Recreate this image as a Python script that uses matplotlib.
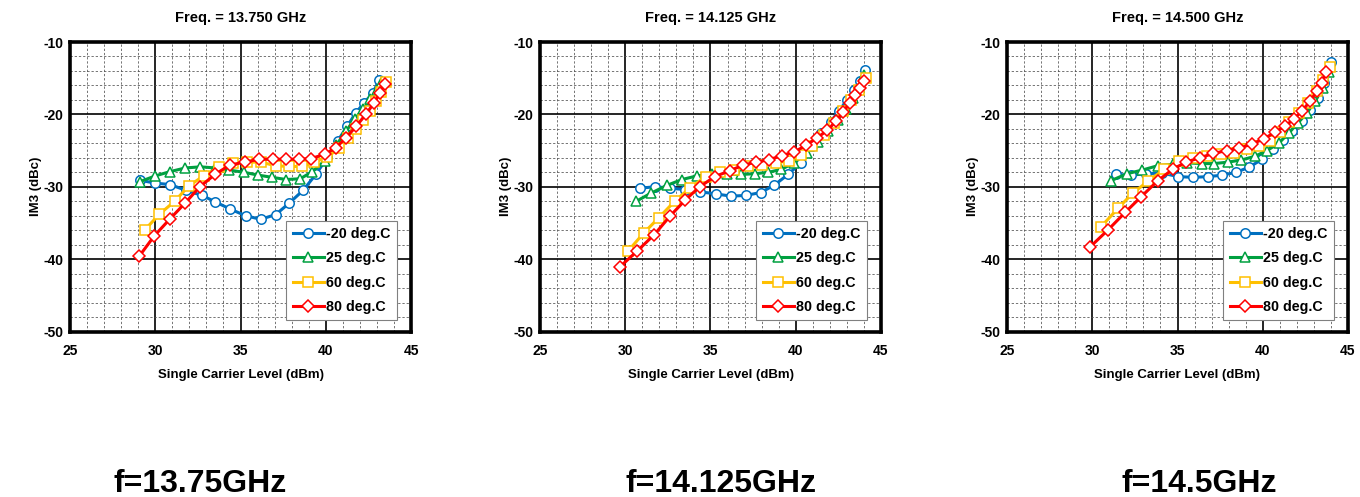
import matplotlib
matplotlib.use("Agg")
import matplotlib.pyplot as plt
from matplotlib.ticker import MultipleLocator

# ---- data -------------------------------------------------------------
panel_titles = ["Freq. = 13.750 GHz", "Freq. = 14.125 GHz", "Freq. = 14.500 GHz"]
panel_captions = ["f=13.75GHz", "f=14.125GHz", "f=14.5GHz"]
series_labels = ["-20 deg.C", "25 deg.C", "60 deg.C", "80 deg.C"]

# 13.750 GHz
f1_m20_x = [29.1, 30.0, 30.88, 31.8, 32.75, 33.53, 34.41, 35.3, 36.18, 37.06, 37.84, 38.67, 39.45, 40.1,
            40.69, 41.27, 41.76, 42.25, 42.75, 43.14]
f1_m20_y = [-29.1, -29.5, -29.7, -30.5, -31.2, -32.1, -33.1, -34.0, -34.5, -33.85, -32.3, -30.5, -28.2, -25.9,
            -23.7, -21.6, -19.8, -18.4, -17.1, -15.2]
f1_25_x = [29.1, 30.0, 30.88, 31.77, 32.65, 33.53, 34.35, 35.2, 36.05, 36.86, 37.67, 38.5, 39.22, 39.95,
           40.6, 41.2, 41.7, 42.2, 42.6, 43.0, 43.25]
f1_25_y = [-29.3, -28.5, -27.9, -27.4, -27.25, -27.4, -27.7, -28.0, -28.4, -28.7, -29.0, -28.9, -27.9, -26.4,
           -24.3, -22.3, -20.6, -19.3, -17.9, -16.7, -15.6]
f1_60_x = [29.37, 30.24, 31.14, 31.96, 32.84, 33.73, 34.55, 35.4, 36.2, 37.06, 37.84, 38.63, 39.33, 40.1,
           40.8, 41.3, 41.8, 42.2, 42.6, 42.95, 43.25, 43.53]
f1_60_y = [-36.0, -33.8, -32.0, -29.9, -28.5, -27.3, -26.7, -26.6, -26.6, -27.1, -27.2, -27.2, -26.6, -25.9,
           -24.6, -23.3, -22.0, -20.8, -19.5, -18.2, -16.9, -15.5]
f1_80_x = [29.06, 29.94, 30.84, 31.73, 32.62, 33.5, 34.38, 35.25, 36.1, 36.9, 37.68, 38.45, 39.15, 39.95,
           40.6, 41.2, 41.8, 42.35, 42.84, 43.18, 43.45]
f1_80_y = [-39.6, -36.8, -34.5, -32.3, -30.0, -28.3, -27.0, -26.6, -26.2, -26.2, -26.2, -26.2, -26.1, -25.5,
           -24.6, -23.2, -21.6, -20.0, -18.4, -17.1, -15.8]

# 14.125 GHz
f2_m20_x = [30.84, 31.76, 32.65, 33.53, 34.41, 35.35, 36.2, 37.06, 37.94, 38.73, 39.55, 40.3, 40.95,
            41.5, 42.05, 42.55, 43.0, 43.4, 43.75, 44.05]
f2_m20_y = [-30.2, -30.0, -30.2, -30.4, -30.7, -31.0, -31.3, -31.2, -30.8, -29.8, -28.3, -26.7, -24.4,
            -22.6, -21.0, -19.5, -18.0, -16.7, -15.4, -13.9]
f2_25_x = [30.65, 31.5, 32.45, 33.33, 34.2, 35.1, 35.98, 36.8, 37.6, 38.4, 39.15, 39.9, 40.65,
           41.3, 41.9, 42.45, 42.95, 43.35, 43.7, 44.02]
f2_25_y = [-32.0, -30.9, -29.8, -29.0, -28.5, -28.3, -28.3, -28.3, -28.2, -28.0, -27.6, -26.7, -25.3,
           -23.8, -22.3, -20.8, -19.3, -17.8, -16.4, -14.5]
f2_60_x = [30.16, 31.08, 31.96, 32.9, 33.78, 34.71, 35.53, 36.37, 37.22, 38.04, 38.82, 39.61, 40.29,
           40.98, 41.67, 42.25, 42.75, 43.24, 43.73, 44.12]
f2_60_y = [-38.9, -36.4, -34.3, -32.0, -30.2, -28.6, -27.9, -27.7, -27.2, -27.0, -26.7, -26.4, -25.6,
           -24.4, -22.8, -21.2, -19.6, -18.0, -16.6, -15.0]
f2_80_x = [29.67, 30.69, 31.71, 32.61, 33.53, 34.37, 35.25, 36.12, 36.92, 37.68, 38.45, 39.18, 39.9,
           40.6, 41.27, 41.86, 42.37, 42.78, 43.16, 43.5, 43.75, 44.0]
f2_80_y = [-41.1, -38.9, -36.6, -34.1, -31.8, -30.0, -28.6, -27.8, -27.0, -26.6, -26.25, -25.7, -25.2,
           -24.3, -23.2, -22.2, -20.9, -19.7, -18.4, -17.3, -16.4, -15.4]

# 14.500 GHz
f3_m20_x = [31.4, 32.28, 33.15, 34.07, 35.04, 35.93, 36.81, 37.63, 38.44, 39.2, 39.96, 40.6, 41.2,
            41.72, 42.28, 42.78, 43.23, 43.62, 43.99]
f3_m20_y = [-28.3, -28.4, -28.2, -28.1, -28.6, -28.7, -28.6, -28.4, -28.0, -27.3, -26.2, -24.8, -23.5,
            -22.3, -20.9, -19.4, -17.7, -15.7, -12.8]
f3_25_x = [31.11, 32.04, 32.92, 33.83, 34.71, 35.58, 36.42, 37.14, 37.95, 38.75, 39.53, 40.25, 40.93,
           41.52, 42.06, 42.59, 43.07, 43.52, 43.91]
f3_25_y = [-29.15, -28.2, -27.7, -27.1, -26.9, -26.7, -26.8, -26.8, -26.6, -26.3, -25.8, -25.0, -24.0,
           -22.6, -21.2, -19.8, -18.2, -16.4, -14.2]
f3_60_x = [30.49, 31.5, 32.37, 33.29, 34.22, 35.1, 35.93, 36.75, 37.53, 38.31, 39.09, 39.77, 40.45,
           41.03, 41.52, 42.1, 42.68, 43.17, 43.56, 43.95]
f3_60_y = [-35.6, -33.0, -30.9, -29.2, -27.6, -26.5, -26.0, -25.7, -25.5, -25.3, -24.8, -24.4, -23.7,
           -22.5, -21.1, -19.8, -18.4, -16.8, -15.2, -13.4]
f3_80_x = [29.88, 30.91, 31.95, 32.86, 33.83, 34.71, 35.49, 36.3, 37.1, 37.88, 38.6, 39.35, 40.05,
           40.7, 41.32, 41.85, 42.3, 42.78, 43.17, 43.45, 43.7]
f3_80_y = [-38.3, -36.0, -33.5, -31.4, -29.2, -27.6, -26.6, -26.0, -25.4, -25.0, -24.7, -24.1, -23.4,
           -22.5, -21.6, -20.6, -19.5, -18.2, -16.8, -15.6, -14.2]

panels = [
    [(f1_m20_x, f1_m20_y), (f1_25_x, f1_25_y), (f1_60_x, f1_60_y), (f1_80_x, f1_80_y)],
    [(f2_m20_x, f2_m20_y), (f2_25_x, f2_25_y), (f2_60_x, f2_60_y), (f2_80_x, f2_80_y)],
    [(f3_m20_x, f3_m20_y), (f3_25_x, f3_25_y), (f3_60_x, f3_60_y), (f3_80_x, f3_80_y)],
]

# ---- style ------------------------------------------------------------
plt.rcParams["font.family"] = ["Liberation Sans", "DejaVu Sans"]
plt.rcParams["axes.unicode_minus"] = False
colors = ["#0070C0", "#00A040", "#FFC000", "#FF0000"]
markers = ["o", "^", "s", "D"]
msizes = [6.8, 6.6, 7.6, 5.8]

W, H = 1360, 497
fig = plt.figure(figsize=(W / 100, H / 100), dpi=100)

lefts = [70, 540, 1007]
ax_w = 341
ax_top, ax_bot = 42, 331.5

for i, series in enumerate(panels):
    ax = fig.add_axes([lefts[i] / W, 1 - ax_bot / H, ax_w / W, (ax_bot - ax_top) / H])
    ax.set_xlim(25, 45)
    ax.set_ylim(-50, -10)
    ax.xaxis.set_major_locator(MultipleLocator(5))
    ax.xaxis.set_minor_locator(MultipleLocator(1))
    ax.yaxis.set_major_locator(MultipleLocator(10))
    ax.yaxis.set_minor_locator(MultipleLocator(2))
    ax.grid(which="minor", color="#505050", linestyle=(0, (3, 2.5)), linewidth=0.55)
    ax.grid(which="major", color="black", linestyle="-", linewidth=1.2)
    ax.set_axisbelow(True)
    for sp in ax.spines.values():
        sp.set_linewidth(2.6)
        sp.set_color("black")
    ax.tick_params(which="both", length=0)
    ax.tick_params(axis="x", pad=9, labelsize=10)
    ax.tick_params(axis="y", pad=5, labelsize=10)
    for lab in ax.get_xticklabels() + ax.get_yticklabels():
        lab.set_fontweight("bold")

    for k, (xs, ys) in enumerate(series):
        ax.plot(xs, ys, color=colors[k], linewidth=2.2, marker=markers[k],
                markersize=msizes[k], markerfacecolor="white",
                markeredgecolor=colors[k], markeredgewidth=1.1,
                label=series_labels[k], zorder=3 + k, clip_on=False)

    ax.set_xlabel("Single Carrier Level (dBm)", fontsize=9.5, fontweight="bold")
    ax.xaxis.set_label_coords(0.5, -0.15)
    ax.xaxis.label.set_va("center")
    ax.set_ylabel("IM3 (dBc)", fontsize=9.5, fontweight="bold")
    ax.yaxis.set_label_coords(-0.1, 0.5)
    ax.yaxis.label.set_va("center")

    leg = ax.legend(loc="lower right", bbox_to_anchor=(0.958, 0.038),
                    prop={"weight": "bold", "size": 10.3}, handlelength=2.2,
                    handletextpad=0.12, labelspacing=0.72, borderpad=0.45,
                    borderaxespad=0.0,
                    fancybox=False, framealpha=1, edgecolor="#808080")
    leg.get_frame().set_linewidth(0.8)

    cx = (lefts[i] + ax_w / 2) / W
    fig.text(cx, 1 - 18 / H, panel_titles[i], ha="center", va="center",
             fontsize=10.5, fontweight="bold")

caption_x = [200, 721, 1199]
for i, cap in enumerate(panel_captions):
    fig.text(caption_x[i] / W, 1 - 484 / H, cap, ha="center", va="center",
             fontsize=23, fontweight="bold",
             family=["Liberation Sans Narrow", "Liberation Sans", "DejaVu Sans"])

fig.savefig("out.png", dpi=100, facecolor="white")
